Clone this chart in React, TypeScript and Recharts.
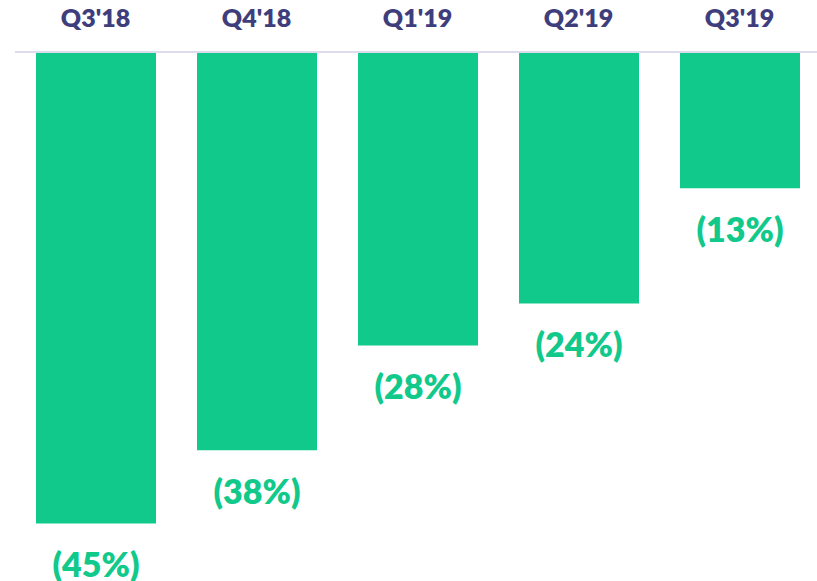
import { BarChart, Bar, XAxis, YAxis, LabelList } from 'recharts';

const quarters = ["Q3'18", "Q4'18", "Q1'19", "Q2'19", "Q3'19"];
const margins = [-45, -38, -28, -24, -13];

const data = quarters.map((q, i) => ({ quarter: q, margin: margins[i] }));

const GREEN = '#10C98B';
const PURPLE = '#3F3E7C';

function ValueLabel(props: any) {
  const { x, y, width, height, value } = props;
  const bottom = Math.max(y, y + height);
  return (
    <text
      x={x + width / 2}
      y={bottom + 40}
      textAnchor="middle"
      dominantBaseline="central"
      fill={GREEN}
      fontSize={34}
      fontWeight={800}
      fontFamily="Lato, sans-serif"
    >
      {`(${Math.abs(value)}%)`}
    </text>
  );
}

export default function App() {
  return (
    <div style={{ position: 'absolute', left: 0, top: 0, background: '#fff' }}>
      <BarChart
        width={817}
        height={581}
        data={data}
        margin={{ top: 0, right: -3, bottom: 5, left: 15 }}
      >
        <XAxis
          dataKey="quarter"
          orientation="top"
          height={52}
          axisLine={{ stroke: '#DCDCEC', strokeWidth: 2 }}
          tickLine={false}
          tickSize={0}
          tickMargin={25}
          tick={{ fill: PURPLE, fontSize: 25, fontWeight: 800, fontFamily: 'Lato, sans-serif' }}
        />
        <YAxis hide domain={[-50, 0]} />
        <Bar dataKey="margin" fill={GREEN} barSize={120} isAnimationActive={false}>
          <LabelList dataKey="margin" content={ValueLabel} />
        </Bar>
      </BarChart>
    </div>
  );
}
